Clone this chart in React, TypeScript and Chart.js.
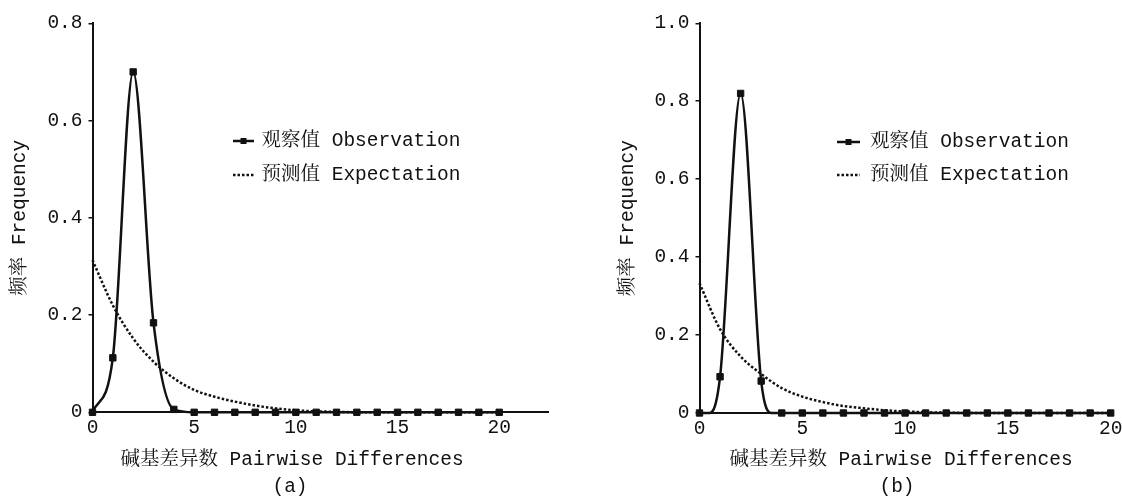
import React, { useEffect, useRef } from 'react';
import { Chart, registerables } from 'chart.js';

Chart.register(...registerables);

// ---------- data ----------
const xValues = [0, 1, 2, 3, 4, 5, 6, 7, 8, 9, 10, 11, 12, 13, 14, 15, 16, 17, 18, 19, 20];

// panel (a)
const observationA = [0, 0.112, 0.70, 0.184, 0.006, 0, 0, 0, 0, 0, 0, 0, 0, 0, 0, 0, 0, 0, 0, 0, 0];
const expectationA = [0.313, 0.22, 0.152, 0.104, 0.07, 0.046, 0.032, 0.022, 0.014, 0.008, 0.004, 0.002, 0.001, 0, 0, 0, 0, 0, 0, 0, 0];

// panel (b) – the observed curve reaches zero before x = 1 and after x = 3
const observationXB = [0, 0.5, 1, 2, 3, 3.5, 4, 5, 6, 7, 8, 9, 10, 11, 12, 13, 14, 15, 16, 17, 18, 19, 20];
const observationB = [0, 0, 0.093, 0.82, 0.082, 0, 0, 0, 0, 0, 0, 0, 0, 0, 0, 0, 0, 0, 0, 0, 0, 0, 0];
const expectationB = [0.333, 0.215, 0.145, 0.1, 0.064, 0.042, 0.028, 0.018, 0.012, 0.007, 0.004, 0.002, 0.001, 0, 0, 0, 0, 0, 0, 0, 0];

const xTicks = [0, 5, 10, 15, 20];
const yTicksA = [0, 0.2, 0.4, 0.6, 0.8];
const yTicksB = [0, 0.2, 0.4, 0.6, 0.8, 1.0];

const seriesNames = ['观察值 Observation', '预测值 Expectation'];
const xTitle = '碱基差异数 Pairwise Differences';
const yTitle = '频率 Frequency';
const captions = ['(a)', '(b)'];

// ---------- style ----------
const FONT = '"Liberation Mono", "Noto Serif CJK SC", "Noto Sans CJK SC", monospace';
const FS = 19.5;
const INK = '#111';

type PanelCfg = {
  obsX: number[];
  obsY: number[];
  expY: number[];
  yTicks: number[];
  xMax: number;
  yMax: number;
  padLeft: number;
  padRight: number;
  padTop: number;
  padBottom: number;
  yWidth: number;
  xHeight: number;
};

function makeChart(canvas: HTMLCanvasElement, p: PanelCfg) {
  const obsData = p.obsX.map((x, i) => ({ x, y: p.obsY[i] }));
  const expData = xValues.map((x, i) => ({ x, y: p.expY[i] }));
  return new Chart(canvas, {
    type: 'line',
    data: {
      datasets: [
        {
          label: seriesNames[0],
          data: obsData,
          borderColor: INK,
          backgroundColor: INK,
          borderWidth: 2.5,
          cubicInterpolationMode: 'monotone',
          pointStyle: 'rect',
          pointRadius: (ctx: any) => (ctx.raw && Number.isInteger(ctx.raw.x) ? 4.5 : 0),
          pointBorderWidth: 1,
          pointBorderColor: INK,
          pointBackgroundColor: INK,
          fill: false,
          clip: false as any,
        },
        {
          label: seriesNames[1],
          data: expData,
          borderColor: INK,
          borderWidth: 2.5,
          borderDash: [2.5, 2],
          cubicInterpolationMode: 'monotone',
          pointRadius: 0,
          fill: false,
          clip: false as any,
        },
      ],
    },
    options: {
      responsive: false,
      animation: false,
      devicePixelRatio: 1,
      layout: {
        padding: { left: p.padLeft, right: p.padRight, top: p.padTop, bottom: p.padBottom },
      },
      plugins: {
        legend: { display: false },
        tooltip: { enabled: false },
        title: { display: false },
      },
      scales: {
        x: {
          type: 'linear',
          min: 0,
          max: p.xMax,
          border: { display: true, color: INK, width: 2 },
          grid: { display: true, drawOnChartArea: false, drawTicks: false },
          ticks: {
            color: INK,
            font: { family: FONT, size: FS },
            padding: 4,
            maxRotation: 0,
            autoSkip: false,
            callback: (v: any) => String(v),
          },
          afterBuildTicks: (s: any) => {
            s.ticks = xTicks.map((v) => ({ value: v }));
          },
          afterFit: (s: any) => {
            s.height = p.xHeight;
          },
        },
        y: {
          type: 'linear',
          min: 0,
          max: p.yMax,
          border: { display: true, color: INK, width: 2 },
          grid: { display: true, drawOnChartArea: false, drawTicks: true, tickLength: 4, color: INK, lineWidth: 1.5 },
          ticks: {
            color: INK,
            font: { family: FONT, size: FS },
            padding: 6,
            autoSkip: false,
            callback: (v: any) => (v === 0 ? '0' : Number(v).toFixed(1)),
          },
          afterBuildTicks: (s: any) => {
            s.ticks = p.yTicks.map((v) => ({ value: v }));
          },
          title: {
            display: true,
            text: yTitle,
            color: INK,
            font: { family: FONT, size: FS },
            padding: { top: 8.3, bottom: 0 },
          },
          afterFit: (s: any) => {
            s.width = p.yWidth;
          },
        },
      },
    },
  });
}

const textStyle: React.CSSProperties = {
  position: 'absolute',
  fontFamily: FONT,
  fontSize: FS,
  lineHeight: '24px',
  color: INK,
  whiteSpace: 'pre',
};

function CenterText({ cx, cy, text }: { cx: number; cy: number; text: string }) {
  return (
    <div style={{ ...textStyle, left: cx - 250, width: 500, top: cy - 12, textAlign: 'center' }}>{text}</div>
  );
}

function LegendRow({ x, cy, w, gap, solid, text }: { x: number; cy: number; w: number; gap: number; solid: boolean; text: string }) {
  return (
    <div style={{ ...textStyle, left: x, top: cy - 12, height: 24, display: 'flex', alignItems: 'center' }}>
      <svg width={w} height={24} style={{ display: 'block' }}>
        {solid ? (
          <g>
            <line x1={0} y1={12} x2={w} y2={12} stroke={INK} strokeWidth={2.5} />
            <rect x={w / 2 - 3} y={9} width={6} height={6} fill={INK} />
          </g>
        ) : (
          <line x1={0} y1={12} x2={w} y2={12} stroke={INK} strokeWidth={2.5} strokeDasharray="2.5 2" />
        )}
      </svg>
      <span style={{ marginLeft: gap }}>{text}</span>
    </div>
  );
}

export default function App() {
  const refA = useRef<HTMLCanvasElement>(null);
  const refB = useRef<HTMLCanvasElement>(null);

  useEffect(() => {
    const chartA = makeChart(refA.current!, {
      obsX: xValues,
      obsY: observationA,
      expY: expectationA,
      yTicks: yTicksA,
      xMax: 22.4,
      yMax: 0.8,
      padLeft: 0,
      padRight: 561 - 548,
      padTop: 23.3,
      padBottom: 496 - 412.3 - 40,
      yWidth: 92.5,
      xHeight: 40,
    });
    const chartB = makeChart(refB.current!, {
      obsX: observationXB,
      obsY: observationB,
      expY: expectationB,
      yTicks: yTicksB,
      xMax: 20,
      yMax: 1.0,
      padLeft: 47,
      padRight: 580 - (1110.7 - 561),
      padTop: 23.3,
      padBottom: 496 - 413 - 40,
      yWidth: 699.5 - 561 - 47,
      xHeight: 40,
    });
    return () => {
      chartA.destroy();
      chartB.destroy();
    };
  }, []);

  return (
    <div
      style={{
        position: 'fixed',
        left: 0,
        top: 0,
        width: 1122,
        height: 496,
        overflow: 'hidden',
        background: '#fff',
      }}
    >
      <canvas ref={refA} width={561} height={496} style={{ position: 'absolute', left: 0, top: 0, width: 561, height: 496 }} />
      <canvas ref={refB} width={580} height={496} style={{ position: 'absolute', left: 561, top: 0, width: 580, height: 496 }} />

      <LegendRow x={233} cy={140.7} w={21} gap={7.5} solid={true} text={seriesNames[0]} />
      <LegendRow x={233} cy={175} w={22} gap={6.5} solid={false} text={seriesNames[1]} />
      <LegendRow x={837} cy={141.7} w={23} gap={10} solid={true} text={seriesNames[0]} />
      <LegendRow x={837} cy={175} w={23} gap={10} solid={false} text={seriesNames[1]} />

      <CenterText cx={292} cy={460} text={xTitle} />
      <CenterText cx={901} cy={460} text={xTitle} />
      <CenterText cx={290} cy={487} text={captions[0]} />
      <CenterText cx={897} cy={487} text={captions[1]} />
    </div>
  );
}
